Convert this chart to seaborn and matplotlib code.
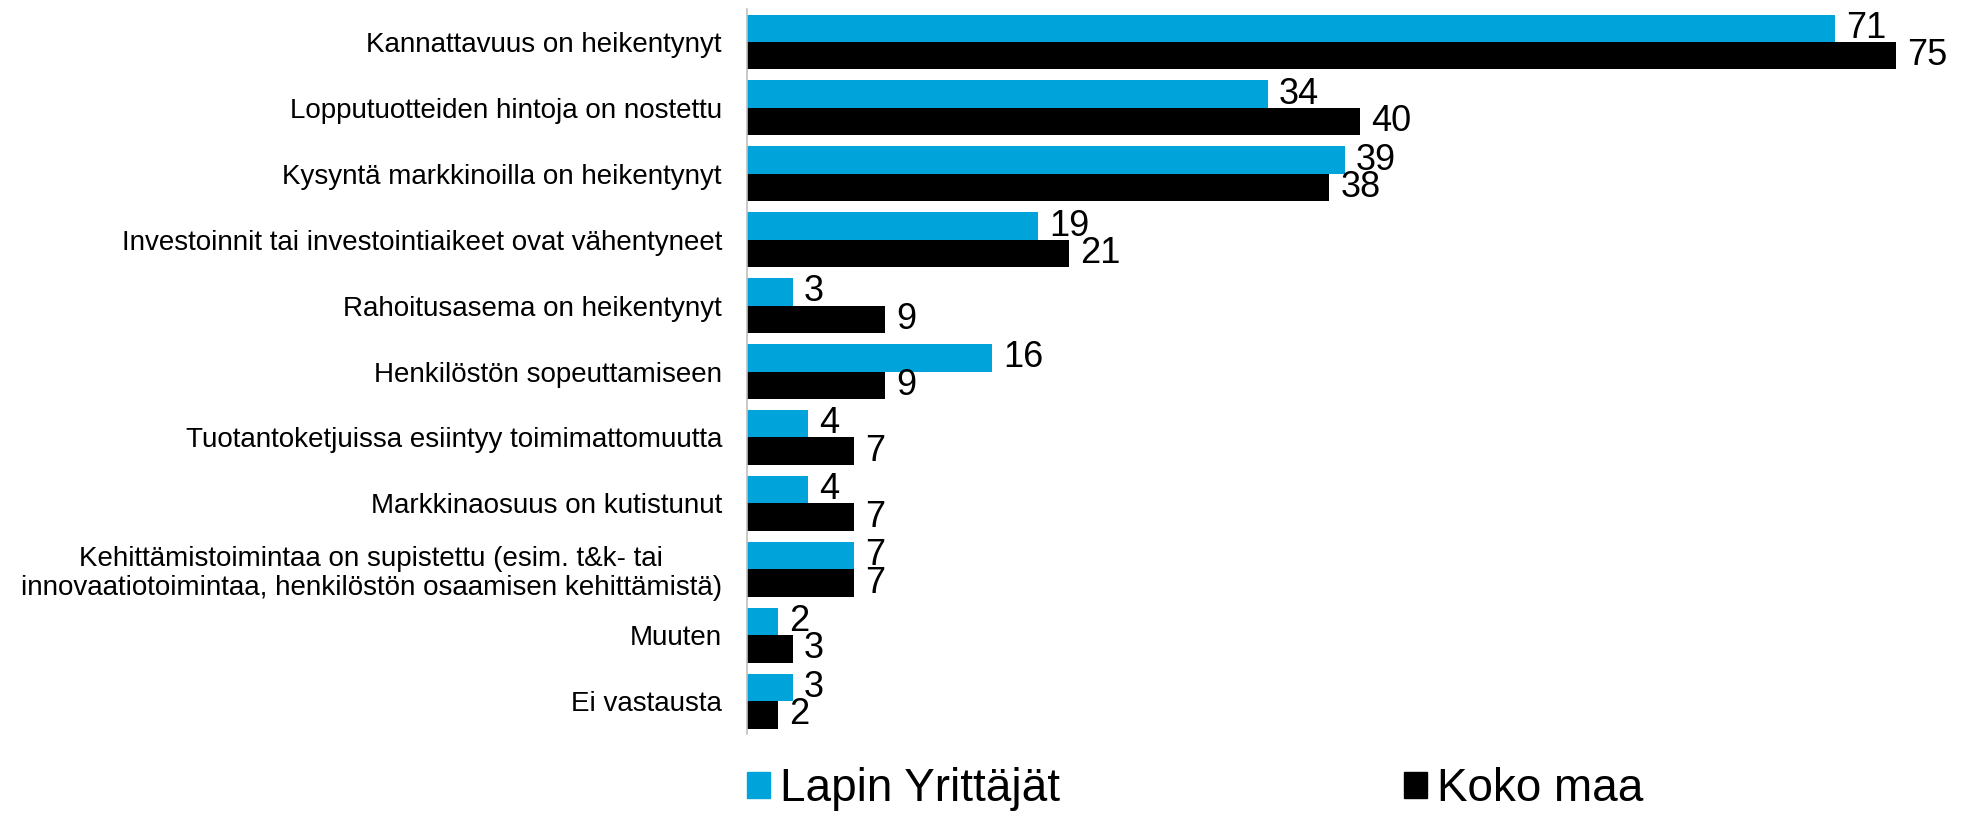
import matplotlib
matplotlib.use("Agg")
import matplotlib.pyplot as plt
from matplotlib.patches import Patch
import seaborn as sns
import pandas as pd

categories = [
    "Kannattavuus on heikentynyt",
    "Lopputuotteiden hintoja on nostettu",
    "Kysyntä markkinoilla on heikentynyt",
    "Investoinnit tai investointiaikeet ovat vähentyneet",
    "Rahoitusasema on heikentynyt",
    "Henkilöstön sopeuttamiseen",
    "Tuotantoketjuissa esiintyy toimimattomuutta",
    "Markkinaosuus on kutistunut",
    "Kehittämistoimintaa on supistettu (esim. t&k- tai\ninnovaatiotoimintaa, henkilöstön osaamisen kehittämistä)",
    "Muuten",
    "Ei vastausta",
]
lapin = [71, 34, 39, 19, 3, 16, 4, 4, 7, 2, 3]
koko_maa = [75, 40, 38, 21, 9, 9, 7, 7, 7, 3, 2]
series_names = ["Lapin Yrittäjät", "Koko maa"]
colors = ["#00A4DB", "#000000"]

df = pd.DataFrame({
    "kategoria": categories * 2,
    "arvo": lapin + koko_maa,
    "sarja": [series_names[0]] * len(categories) + [series_names[1]] * len(categories),
})

sns.set_theme(style="white")
plt.rcParams["font.family"] = ["Liberation Sans", "DejaVu Sans"]

fig = plt.figure(figsize=(19.73, 8.13), dpi=100)
ax = fig.add_axes([0.3786, 0.097, 0.6214, 0.892])

sns.barplot(data=df, y="kategoria", x="arvo", hue="sarja", orient="h",
            palette=colors, saturation=1, width=0.83, ax=ax,
            order=categories, hue_order=series_names, legend=False,
            edgecolor="none", linewidth=0)

for cont in ax.containers:
    ax.bar_label(cont, fmt="%g", padding=8, fontsize=26, color="black", clip_on=False)

ax.set_xlim(0, 80)
ax.set_ylim(len(categories) - 0.5, -0.5)
ax.set_xlabel("")
ax.set_ylabel("")
ax.set_xticks([])
ax.tick_params(axis="y", length=0, pad=18, labelsize=20)
for lab in ax.get_yticklabels():
    lab.set_horizontalalignment("right")
    lab.set_multialignment("center")
    lab.set_linespacing(1.15)
    lab.set_color("black")
for s in ["top", "right", "bottom"]:
    ax.spines[s].set_visible(False)
ax.spines["left"].set_color("#BFBFBF")
ax.spines["left"].set_linewidth(1.2)

# legend under the bars
handles = [Patch(color=c) for c in colors]
leg = fig.legend(handles, series_names, loc="center left", bbox_to_anchor=(0.367, 0.029),
                 ncol=2, frameon=False, fontsize=33, borderpad=0, handlelength=0.5,
                 handleheight=0.5, handletextpad=0.22, columnspacing=7.5)
for t in leg.get_texts():
    t.set_color("black")

fig.savefig("out.png", dpi=100)
